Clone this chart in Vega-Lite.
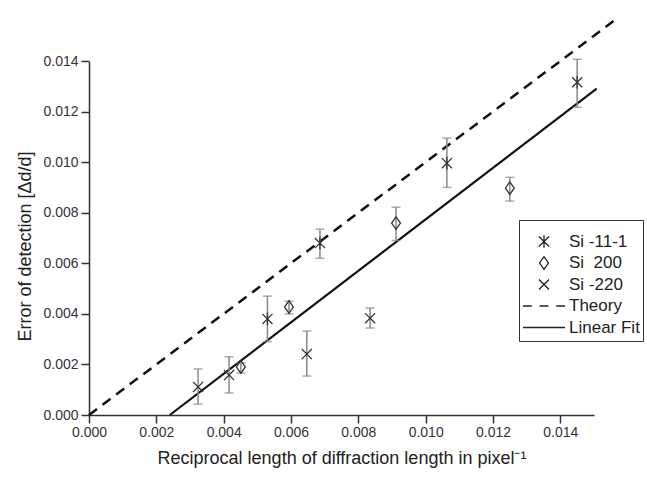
{
  "$schema": "https://vega.github.io/schema/vega-lite/v6.json",
  "width": 505,
  "height": 354,
  "autosize": {"type": "none"},
  "padding": {"left": 89, "top": 61, "right": 53, "bottom": 62},
  "background": "white",
  "config": {
    "view": {"stroke": null},
    "font": "Liberation Sans",
    "axis": {
      "grid": false,
      "domainColor": "#333",
      "domainWidth": 1.5,
      "tickColor": "#333",
      "tickWidth": 1.5,
      "labelFont": "Liberation Sans",
      "labelFontSize": 14,
      "labelColor": "#333",
      "labelOverlap": false,
      "labelFlush": false,
      "titleFont": "Liberation Sans",
      "titleFontSize": 18,
      "titleFontWeight": "normal",
      "titleColor": "#222"
    }
  },
  "datasets": {
    "pts": [
      {"series": "Si -11-1", "x": 0.0053, "y": 0.0038, "lo": 0.0029, "hi": 0.0047},
      {"series": "Si -11-1", "x": 0.00686, "y": 0.0068, "lo": 0.0062, "hi": 0.00735},
      {"series": "Si -11-1", "x": 0.01063, "y": 0.00996, "lo": 0.009, "hi": 0.01095},
      {"series": "Si -11-1", "x": 0.0145, "y": 0.01316, "lo": 0.01217, "hi": 0.01407},
      {"series": "Si\u00a0\u00a0200", "x": 0.00451, "y": 0.0019, "lo": 0.00166, "hi": 0.00206},
      {"series": "Si\u00a0\u00a0200", "x": 0.00594, "y": 0.00427, "lo": 0.004, "hi": 0.0045},
      {"series": "Si\u00a0\u00a0200", "x": 0.00912, "y": 0.00759, "lo": 0.0069, "hi": 0.00822},
      {"series": "Si\u00a0\u00a0200", "x": 0.0125, "y": 0.00897, "lo": 0.00846, "hi": 0.0094},
      {"series": "Si -220", "x": 0.00324, "y": 0.00111, "lo": 0.00043, "hi": 0.00182},
      {"series": "Si -220", "x": 0.00416, "y": 0.00158, "lo": 0.00087, "hi": 0.0023},
      {"series": "Si -220", "x": 0.00647, "y": 0.00241, "lo": 0.00154, "hi": 0.00332},
      {"series": "Si -220", "x": 0.00835, "y": 0.00383, "lo": 0.00344, "hi": 0.00423}
    ],
    "theory": [
      {"x": 0, "y": 0},
      {"x": 0.0157, "y": 0.0157}
    ],
    "fit": [
      {"x": 0.0024, "y": 0},
      {"x": 0.01508, "y": 0.01291}
    ]
  },
  "layer": [
    {
      "data": {"name": "theory"},
      "mark": {"type": "line", "color": "#111", "strokeWidth": 2.5, "strokeDash": [10, 7], "clip": false},
      "encoding": {
        "x": {
          "field": "x", "type": "quantitative",
          "title": "Reciprocal length of diffraction length in pixel\u207b\u00b9",
          "scale": {"domain": [0, 0.015], "nice": false, "zero": false},
          "axis": {
            "values": [0, 0.001, 0.002, 0.003, 0.004, 0.005, 0.006, 0.007, 0.008, 0.009, 0.01, 0.011, 0.012, 0.013, 0.014, 0.015],
            "labelExpr": "round(datum.value*1000) % 2 === 0 ? format(datum.value, '.3f') : ''",
            "tickSize": {"condition": {"test": "round(datum.value*1000) % 2 === 0", "value": 8}, "value": 4},
            "labelPadding": 2,
            "titlePadding": 10
          }
        },
        "y": {
          "field": "y", "type": "quantitative",
          "title": "Error of detection [\u0394d/d]",
          "scale": {"domain": [0, 0.014], "nice": false, "zero": false},
          "axis": {
            "values": [0, 0.001, 0.002, 0.003, 0.004, 0.005, 0.006, 0.007, 0.008, 0.009, 0.01, 0.011, 0.012, 0.013, 0.014],
            "labelExpr": "round(datum.value*1000) % 2 === 0 ? format(datum.value, '.3f') : ''",
            "tickSize": {"condition": {"test": "round(datum.value*1000) % 2 === 0", "value": 8}, "value": 4},
            "labelPadding": 3,
            "titlePadding": 8,
            "titleY": 185
          }
        }
      }
    },
    {
      "data": {"name": "fit"},
      "mark": {"type": "line", "color": "#111", "strokeWidth": 2.2},
      "encoding": {
        "x": {"field": "x", "type": "quantitative", "title": "Reciprocal length of diffraction length in pixel\u207b\u00b9"},
        "y": {"field": "y", "type": "quantitative", "title": "Error of detection [\u0394d/d]"}
      }
    },
    {
      "data": {"name": "pts"},
      "mark": {"type": "errorbar", "color": "#888", "thickness": 1.5, "ticks": {"size": 9, "thickness": 1.5, "color": "#888"}},
      "encoding": {
        "x": {"field": "x", "type": "quantitative", "title": "Reciprocal length of diffraction length in pixel\u207b\u00b9"},
        "y": {"field": "lo", "type": "quantitative", "title": "Error of detection [\u0394d/d]"},
        "y2": {"field": "hi"}
      }
    },
    {
      "data": {"name": "pts"},
      "mark": {"type": "point", "filled": false, "size": 1764, "stroke": "#333", "strokeWidth": 1.3, "opacity": 1},
      "encoding": {
        "x": {"field": "x", "type": "quantitative", "title": "Reciprocal length of diffraction length in pixel\u207b\u00b9"},
        "y": {"field": "y", "type": "quantitative", "title": "Error of detection [\u0394d/d]"},
        "shape": {
          "field": "series", "type": "nominal",
          "scale": {
            "domain": ["Si -11-1", "Si\u00a0\u00a0200", "Si -220", "Theory", "Linear Fit"],
            "range": [
              "M-0.24,-0.24L0.24,0.24M-0.24,0.24L0.24,-0.24M0,-0.3L0,0.3",
              "M0,-0.3L0.21,0L0,0.3L-0.21,0Z",
              "M-0.24,-0.24L0.24,0.24M-0.24,0.24L0.24,-0.24",
              "M-1,0H-0.58M-0.21,0H0.21M0.58,0H1",
              "M-1,0H1"
            ]
          },
          "legend": {
            "orient": "none",
            "legendX": 430,
            "legendY": 159,
            "title": " ",
            "titleFontSize": 6,
            "titlePadding": 2,
            "padding": 3,
            "strokeColor": "#333",
            "fillColor": "white",
            "symbolSize": 1764,
            "symbolStrokeColor": "#222",
            "symbolFillColor": "transparent",
            "symbolStrokeWidth": 1.3,
            "labelFont": "Liberation Sans",
            "labelFontSize": 17,
            "labelColor": "#222",
            "labelOffset": 3,
            "labelLimit": 400,
            "clipHeight": 21,
            "rowPadding": 0.5,
            "encode": {
              "symbols": {
                "update": {
                  "strokeWidth": {"signal": "datum.value === 'Theory' || datum.value === 'Linear Fit' ? 2.2 : 1.3"}
                }
              }
            }
          }
        }
      }
    }
  ]
}
